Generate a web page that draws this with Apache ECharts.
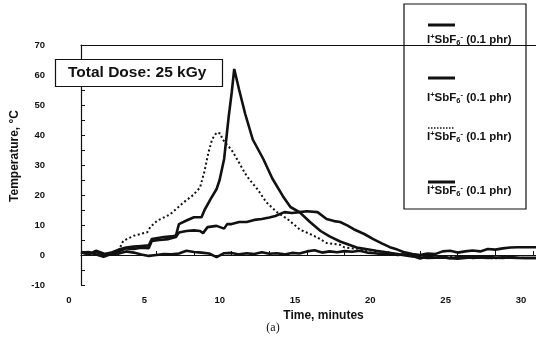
<!DOCTYPE html>
<html>
<head>
<meta charset="utf-8">
<script src="https://cdn.jsdelivr.net/npm/echarts@6/dist/echarts.min.js"></script>
<style>
  html, body { margin: 0; padding: 0; background: #fff; }
  #chart { width: 536px; height: 345px; }
</style>
</head>
<body>
<div id="chart"></div>
<script>
// 数据: [时间(分钟), 温度(°C)]
var seriesName = "I+SbF6- (0.1 phr)";

// 尖峰实线
var sharpPeak = [
    [0, 0.8], [0.5, 0.3], [1, 1], [1.5, 0.2], [2, 0.8], [2.5, 1.8], [3, 2.5], [3.5, 2.8],
    [4, 3], [4.5, 3.2], [4.7, 5.3], [5, 5.6], [5.5, 6], [6, 6.2], [6.3, 6.5], [6.5, 10.3],
    [7, 11.5], [7.5, 12.6], [8, 12.6], [8.2, 15], [8.6, 18.6], [9, 22], [9.2, 25], [9.5, 32],
    [9.8, 46], [10, 54], [10.17, 62], [10.5, 55], [10.9, 47], [11.4, 38.5], [12.1, 32],
    [12.7, 25.5], [13.4, 19.6], [13.9, 16], [14.5, 14.3], [15.2, 11], [15.9, 8], [16.5, 6.2],
    [17.2, 4.5], [18.3, 2.5], [19.6, 1.4], [21, 0.3], [22, -0.5], [23, -1], [24, -0.8],
    [25, -1.2], [26, -0.7], [27, -1], [28, -0.8], [29, -1], [30.2, -1]
];

// 点线
var dottedPeak = [
    [0, 1.2], [0.5, 0.6], [1, 1.5], [1.5, -0.3], [2, 0.6], [2.5, 1.5], [2.8, 4.7], [3.5, 6.4],
    [4.4, 7.6], [4.6, 9.3], [5.05, 11.4], [5.9, 13.5], [6.8, 17.5], [7.45, 20], [7.9, 22.5],
    [8.2, 28], [8.45, 34], [8.7, 38.5], [9, 40.8], [9.25, 40.5], [9.4, 38.5], [9.65, 37],
    [10, 35], [10.35, 32], [11, 26.3], [11.7, 22], [12.3, 17.6], [13, 14.3], [13.7, 12],
    [14.55, 8.4], [15.2, 7], [15.7, 5.8], [16.3, 4], [17.2, 3.4], [17.5, 2.5], [18.5, 2],
    [19.6, 1.3], [20.5, 0.8], [21.5, 0], [22.5, -0.6], [23.5, -0.9], [24.5, -0.6], [25.5, -1],
    [26.5, -0.8], [27.5, -1.1], [28.5, -0.8], [29.5, -1], [30.2, -1]
];

// 宽峰实线
var broadHump = [
    [0, 1], [0.5, 0.2], [1, 1.4], [1.5, 0.5], [2, 0.2], [2.5, 1.2], [3, 2.2], [3.5, 2],
    [4, 2.4], [4.5, 2.3], [4.7, 4.7], [5.2, 5], [5.8, 5.3], [6.3, 6], [6.5, 7.5], [7, 8],
    [7.5, 8.2], [7.9, 8], [8.1, 7.3], [8.4, 9.3], [9, 9.7], [9.5, 8.8], [9.7, 10.3], [10, 10.3],
    [10.5, 11], [11, 11], [11.5, 11.7], [12, 12], [12.5, 12.5], [12.9, 13], [13.5, 14.3],
    [14, 14], [14.5, 14.3], [15, 14.6], [15.7, 14.3], [16.3, 12], [16.8, 11.3], [17.2, 11],
    [17.7, 9.8], [18.1, 8.6], [18.8, 7], [19.4, 5.3], [20, 3.8], [20.5, 2.6], [21, 1.8],
    [21.4, 1], [22, 0.3], [22.5, 0], [23, 0.5], [23.5, 0.3], [24, 1.2], [24.5, 1.4], [25, 0.8],
    [25.5, 1.2], [26, 1.5], [26.5, 1.2], [27, 2], [27.5, 1.8], [28, 2.2], [28.5, 2.5],
    [29, 2.6], [29.5, 2.6], [30.2, 2.6]
];

// 基线实线
var flatBase = [
    [0, 0.8], [0.5, 1], [1, 0.2], [1.5, -0.6], [2, 0.3], [2.5, 0.5], [3, 1.2], [3.5, 0.8],
    [4, 0.2], [4.5, -0.3], [5, 0], [5.5, 0.3], [6, 0.2], [6.5, 0.5], [7, 1.4], [7.5, 1],
    [8, 0.8], [8.5, 0.5], [9, -0.7], [9.5, 0.6], [10, 0.7], [10.5, 0.2], [11, 0.6], [11.5, 0.3],
    [12, 0.9], [12.5, 0.4], [13, 0.6], [13.5, 0.2], [14, 0.7], [14.5, 0.5], [15, 1.2],
    [15.5, 1.6], [16, 0.8], [16.5, 1.2], [17, 0.9], [17.5, 1.3], [18, 1.1], [18.5, 1.4],
    [19, 0.8], [19.5, 0.6], [20, 0.3], [20.5, 0.5], [21, 0], [21.5, 0.2], [22, -0.3],
    [22.5, -1.2], [23, -0.5], [23.5, -0.9], [24, -0.7], [24.5, -1.1], [25, -0.8], [25.5, -0.6],
    [26, -1], [26.5, -0.8], [27, -0.5], [27.5, -0.9], [28, -1], [28.5, -0.7], [29, -0.9],
    [29.5, -1], [30.2, -1]
];

var ink = "#111";
var font = "'Liberation Sans', Arial, sans-serif";

function lineSeries(data, dotted) {
    return {
        name: seriesName,
        type: "line",
        data: data,
        showSymbol: false,
        symbol: "none",
        lineStyle: {
            color: ink,
            width: dotted ? 2 : 2.6,
            type: dotted ? [2, 2.5] : "solid"
        }
    };
}

// 图例的富文本
var legendRich = {
    n: { fontSize: 11.5, fontWeight: "bold", fontFamily: font, fill: ink, lineHeight: 14 },
    sup: { fontSize: 7.5, fontWeight: "bold", fontFamily: font, fill: ink, verticalAlign: "top", lineHeight: 14 },
    sub: { fontSize: 7.5, fontWeight: "bold", fontFamily: font, fill: ink, verticalAlign: "bottom", lineHeight: 14 }
};
var legendText = "{n|I}{sup|+}{n|SbF}{sub|6}{sup|-}{n| (0.1 phr)}";

function legendItem(lineY, textY, dotted) {
    return [{
        type: "line",
        shape: { x1: 428, y1: lineY, x2: 455, y2: lineY },
        style: { stroke: ink, lineWidth: dotted ? 1.5 : 3, lineDash: dotted ? [1.5, 1.5] : null }
    }, {
        type: "text",
        x: 427,
        y: textY,
        style: { text: legendText, rich: legendRich, verticalAlign: "middle", fill: ink }
    }];
}

var myChart = echarts.init(document.getElementById("chart"));
var option = {
    animation: false,
    backgroundColor: "#fff",
    title: {
        text: "Total Dose: 25 kGy",
        left: 55,
        top: 59,
        padding: [6, 16, 6, 13],
        borderWidth: 1.2,
        borderColor: ink,
        backgroundColor: "#fff",
        textStyle: { fontSize: 15.5, fontWeight: "bold", fontFamily: font, color: ink }
    },
    grid: {
        left: 81,
        right: 0,
        top: 45,
        bottom: 60,
        outerBoundsMode: "none",
        containLabel: false
    },
    xAxis: [{
        type: "value",
        min: 0,
        max: 30.2,
        interval: 2.5,
        name: "Time, minutes",
        nameLocation: "middle",
        nameGap: 22,
        nameTextStyle: { fontSize: 12, fontWeight: "bold", fontFamily: font, color: ink, padding: [0, 0, 0, 30] },
        axisLine: { lineStyle: { color: ink, width: 1.2 } },
        axisTick: { inside: true, length: 4, lineStyle: { color: ink } },
        axisLabel: {
            margin: 10,
            fontSize: 9.5,
            fontWeight: "bold",
            fontFamily: font,
            color: ink,
            padding: [0, 24, 0, 0],
            showMaxLabel: false,
            formatter: v => (v % 5 === 0 ? String(v) : "")
        },
        splitLine: { show: false }
    }, {
        type: "value",
        position: "top",
        min: 0,
        max: 30.2,
        axisLine: { show: true, onZero: false, lineStyle: { color: ink, width: 1.2 } },
        axisTick: { show: false },
        axisLabel: { show: false },
        splitLine: { show: false }
    }],
    yAxis: {
        type: "value",
        min: -10,
        max: 70,
        interval: 5,
        name: "Temperature, °C",
        nameLocation: "middle",
        nameGap: 56,
        nameTextStyle: { fontSize: 12, fontWeight: "bold", fontFamily: font, color: ink, padding: [0, 0, 0, 18] },
        axisLine: { show: true, lineStyle: { color: ink, width: 1.2 } },
        axisTick: { inside: true, length: 4, lineStyle: { color: ink } },
        axisLabel: {
            margin: 36,
            fontSize: 9.5,
            fontWeight: "bold",
            fontFamily: font,
            color: ink,
            formatter: v => (v % 10 === 0 ? String(v) : "")
        },
        splitLine: { show: false }
    },
    series: [
        lineSeries(flatBase, false),
        lineSeries(broadHump, false),
        lineSeries(dottedPeak, true),
        lineSeries(sharpPeak, false)
    ],
    graphic: [{
        type: "rect",
        shape: { x: 404, y: 4, width: 122, height: 205 },
        style: { fill: "none", stroke: ink, lineWidth: 1.2 },
        z: 10
    }, {
        type: "text",
        x: 273,
        y: 328,
        style: { text: "(a)", fontSize: 12, fontFamily: "'Liberation Serif', 'DejaVu Serif', serif", fill: ink, align: "center", verticalAlign: "middle" }
    }]
        .concat(legendItem(25, 40, false))
        .concat(legendItem(78, 98, false))
        .concat(legendItem(128, 137, true))
        .concat(legendItem(182, 191, false))
};
myChart.setOption(option);
</script>
</body>
</html>
